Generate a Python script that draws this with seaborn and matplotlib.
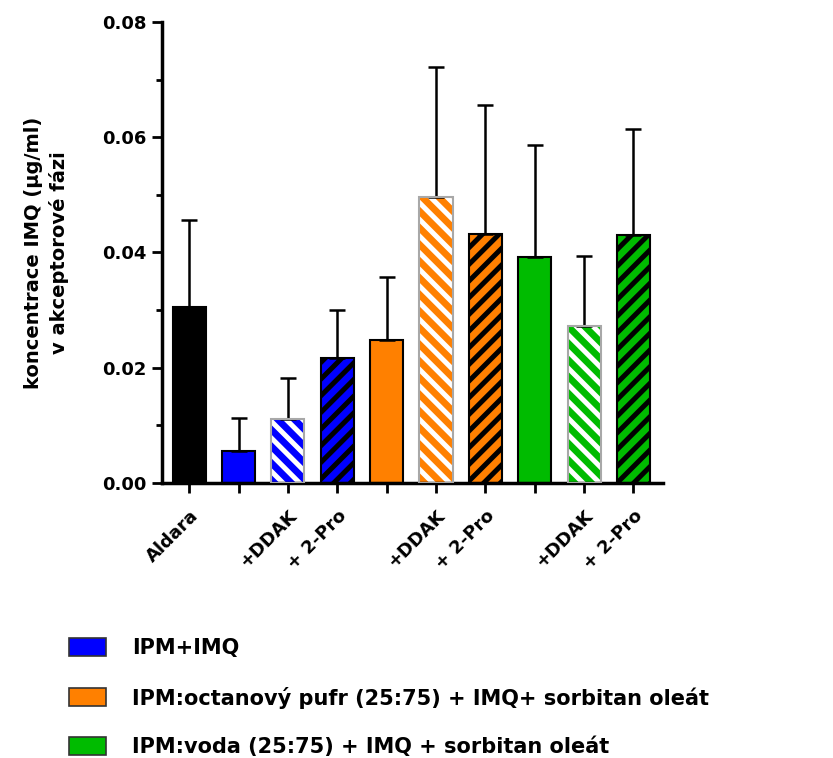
import matplotlib
matplotlib.use("Agg")
import matplotlib.pyplot as plt
from matplotlib.patches import Patch
from matplotlib.ticker import MultipleLocator
import seaborn as sns
import pandas as pd
import numpy as np

# ---- data ----
groups = ["Aldara", "IPM", "IPM+DDAK", "IPM+2-Pro",
          "OCT", "OCT+DDAK", "OCT+2-Pro",
          "VODA", "VODA+DDAK", "VODA+2-Pro"]
tick_labels = ["Aldara", "", "+DDAK", "+ 2-Pro", "", "+DDAK", "+ 2-Pro", "", "+DDAK", "+ 2-Pro"]
values = [0.0305, 0.0056, 0.0111, 0.0217, 0.0248, 0.0496, 0.0432, 0.0392, 0.0272, 0.0430]
errors = [0.0151, 0.0057, 0.0071, 0.0083, 0.0109, 0.0226, 0.0224, 0.0195, 0.0122, 0.0184]
face_colors = ["#000000", "#0000FF", "#0000FF", "#0000FF",
               "#FF8000", "#FF8000", "#FF8000",
               "#00BB00", "#00BB00", "#00BB00"]
hatches = ["", "", "\\\\", "//", "", "\\\\", "//", "", "\\\\", "//"]
hatch_colors = [None, None, "white", "black", None, "white", "black", None, "white", "black"]
edge_colors = ["black", "black", "#A8A8A8", "black", "black", "#A8A8A8", "black", "black", "#A8A8A8", "black"]
legend_labels = ["IPM+IMQ",
                 "IPM:octanový pufr (25:75) + IMQ+ sorbitan oleát",
                 "IPM:voda (25:75) + IMQ + sorbitan oleát"]
legend_colors = ["#0000FF", "#FF8000", "#00BB00"]

df = pd.DataFrame({"group": groups, "value": values})

sns.set_theme(style="white")
plt.rcParams["font.family"] = ["DejaVu Sans"]
plt.rcParams["font.weight"] = "bold"
plt.rcParams["text.color"] = "black"
plt.rcParams["axes.labelcolor"] = "black"
plt.rcParams["xtick.color"] = "black"
plt.rcParams["ytick.color"] = "black"
plt.rcParams["hatch.linewidth"] = 3.6

fig = plt.figure(figsize=(8.33, 7.58), dpi=100)
ax = fig.add_axes([0.1945, 0.3628, 0.6015, 0.6082])

bar_w = 0.67
sns.barplot(data=df, x="group", y="value", hue="group", palette=face_colors,
            legend=False, errorbar=None, width=bar_w, ax=ax, saturation=1,
            order=groups, hue_order=groups)

x = np.arange(len(groups))
patches = [c.patches[0] for c in ax.containers]
for p, h, hc, ec in zip(patches, hatches, hatch_colors, edge_colors):
    if h:
        p.set_hatch(h)
        p.set_edgecolor(hc)
        p.set_linewidth(0)
    else:
        p.set_edgecolor(ec)
        p.set_linewidth(1.5)

# outlines for hatched bars
for i, (h, ec) in enumerate(zip(hatches, edge_colors)):
    if h:
        ax.bar(x[i], values[i], width=bar_w, fill=False, edgecolor=ec, linewidth=1.5, zorder=3)

ax.errorbar(x, values, yerr=[np.zeros(len(values)), errors], fmt="none",
            ecolor="black", elinewidth=1.8, capsize=6, capthick=1.8, zorder=1)

ax.set_xlim(-0.55, 9.6)
ax.set_ylim(0, 0.08)
ax.set_yticks([0, 0.02, 0.04, 0.06, 0.08])
ax.yaxis.set_minor_locator(MultipleLocator(0.01))
ax.set_yticklabels(["0.00", "0.02", "0.04", "0.06", "0.08"], fontsize=13, fontweight="bold")
ax.set_xticks(x)
ax.set_xticklabels(tick_labels, rotation=45, ha="right", rotation_mode="anchor",
                   fontsize=13, fontweight="bold")
ax.tick_params(axis="both", which="major", direction="out", length=7, width=2,
               color="black", bottom=True, left=True, pad=4)
ax.tick_params(axis="y", which="minor", direction="out", length=4, width=2, left=True)
ax.tick_params(axis="x", pad=10)

for s in ["top", "right"]:
    ax.spines[s].set_visible(False)
for s in ["left", "bottom"]:
    ax.spines[s].set_linewidth(2.5)
    ax.spines[s].set_color("black")

ax.set_xlabel("")
ax.set_ylabel("koncentrace IMQ (µg/ml)\nv akceptorové fázi", fontsize=14,
              fontweight="bold", labelpad=24, linespacing=1.4)
ax.grid(False)

handles = [Patch(facecolor=c, edgecolor="#333333", linewidth=1.2) for c in legend_colors]
fig.legend(handles, legend_labels, loc="upper left", bbox_to_anchor=(0.083, 0.158),
           frameon=False, prop={"weight": "bold", "size": 15},
           handlelength=1.75, handleheight=0.95, handletextpad=1.25,
           labelspacing=1.35, borderpad=0, borderaxespad=0)

fig.savefig("out.png", dpi=100)
